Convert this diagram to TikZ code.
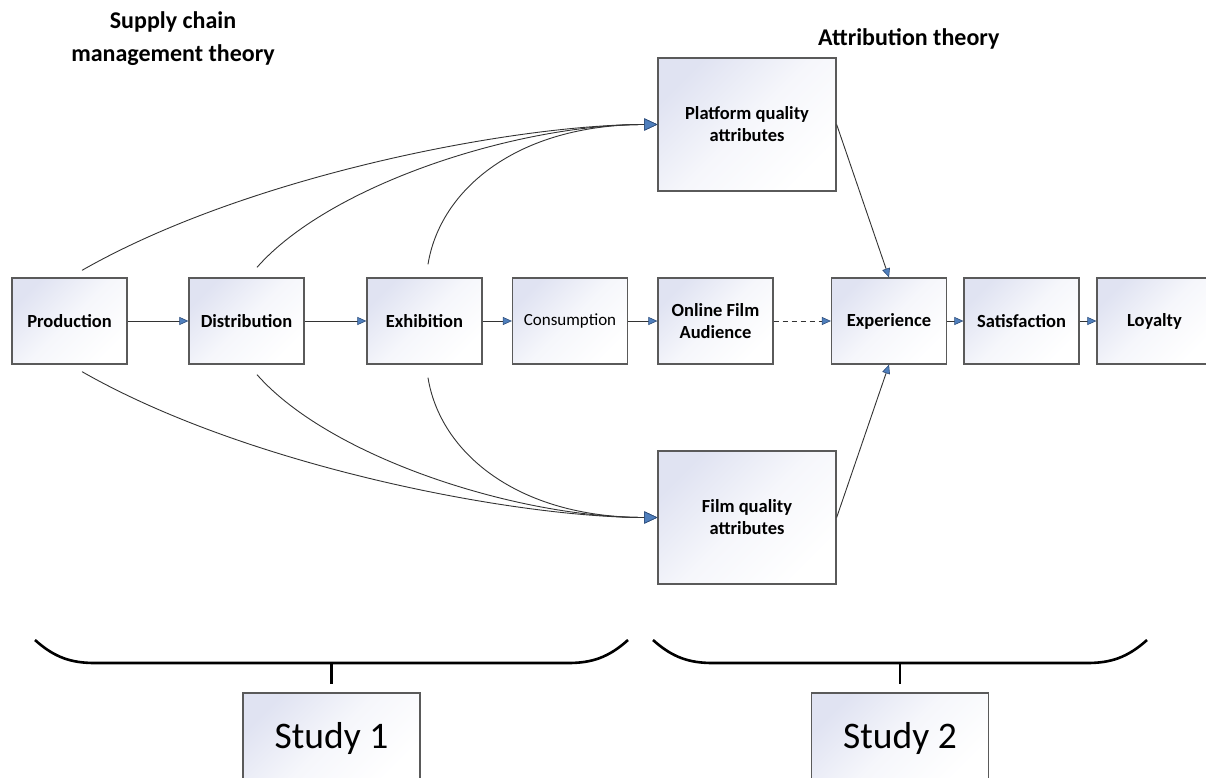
\documentclass[tikz,border=0pt]{standalone}
\usepackage{fontspec}
\setmainfont{Carlito}
\usetikzlibrary{arrows.meta}
\definecolor{boxedge}{HTML}{5A5A5A}
\definecolor{boxtint}{HTML}{E0E3F2}
\definecolor{tipfill}{HTML}{4F7FBD}
\definecolor{tipedge}{HTML}{2E4D7A}
\definecolor{linecol}{HTML}{333333}
\tikzset{
  tint/.style={top color=boxtint, bottom color=white, middle color=white!70!boxtint, shading angle=45},
  blk/.style={draw=boxedge, line width=1.3pt, tint,
    minimum width=115pt, minimum height=86pt, inner sep=0pt, align=center,
    font=\fontsize{18.5}{22}\selectfont\bfseries},
  bigblk/.style={blk, minimum width=178pt, minimum height=133pt},
  conn/.style={draw=linecol, line width=0.9pt, -{Triangle[length=9pt,width=8pt,fill=tipfill,color=tipedge,line width=0.6pt]}},
  curvy/.style={draw=linecol, line width=0.9pt, -{Triangle[length=13pt,width=12pt,fill=tipfill,color=tipedge,line width=0.6pt]}},
  brace/.style={draw=black, line width=2.6pt},
  studybox/.style={draw=boxedge, line width=1.3pt, tint,
    minimum width=177pt, minimum height=90pt, inner sep=0pt, font=\fontsize{37.5}{40}\selectfont},
  title/.style={align=center, font=\fontsize{24}{33}\selectfont\bfseries, inner sep=0pt}
}
\begin{document}
\begin{tikzpicture}[x=1pt,y=-1pt]
\useasboundingbox (0,0) rectangle (1206,778);
% row
\node[blk] (prod) at (69.5,321) {Production};
\node[blk] (dist) at (246.5,321) {Distribution};
\node[blk] (exh) at (424.5,321) {Exhibition};
\node[blk] (cons) at (570,321) {\fontsize{17}{22}\selectfont\mdseries Consumption};
\node[blk] (onl) at (715.5,321) {Online Film\\Audience};
\node[blk] (exp) at (889,321) {Experience};
\node[blk] (sat) at (1021.5,321) {Satisfaction};
\node[blk] (loy) at (1154.5,321) {Loyalty};
% quality boxes
\node[bigblk] (plat) at (747,124.5) {Platform quality\\attributes};
\node[bigblk] (film) at (747,517.5) {Film quality\\attributes};
% titles
\node[title] (t1) at (173,38.5) {Supply chain\\management theory};
\node[title, anchor=west] (t2) at (818,39) {Attribution theory};
% row connectors
\draw[conn] (prod) -- (dist);
\draw[conn] (dist) -- (exh);
\draw[conn] (exh) -- (cons);
\draw[conn] (cons) -- (onl);
\draw[conn, dash pattern=on 5pt off 4pt] (onl) -- (exp);
\draw[conn] (exp) -- (sat);
\draw[conn] (sat) -- (loy);
% quality to experience
\draw[conn] (plat.east) -- (exp.north);
\draw[conn] (film.east) -- (exp.south);
% curves to platform
\draw[curvy] ([shift={(12.5,-7)}]prod.north) .. controls +(168,-96) and +(-140,0) .. (plat.west);
\draw[curvy] ([shift={(10.5,-10)}]dist.north) .. controls +(73,-83) and +(-140,0) .. (plat.west);
\draw[curvy] ([shift={(3.5,-13)}]exh.north) .. controls +(12,-75) and +(-140,0) .. (plat.west);
% curves to film
\draw[curvy] ([shift={(12.5,7)}]prod.south) .. controls +(168,96) and +(-140,0) .. (film.west);
\draw[curvy] ([shift={(10.5,10)}]dist.south) .. controls +(73,83) and +(-140,0) .. (film.west);
\draw[curvy] ([shift={(3.5,13)}]exh.south) .. controls +(12,75) and +(-140,0) .. (film.west);
% braces
\draw[brace] (35,640) .. controls (55,658) and (72,663) .. (95,663) -- (568,663) .. controls (591,663) and (608,658) .. (628,640);
\draw[brace] (653,640) .. controls (673,658) and (690,663) .. (713,663) -- (1087,663) .. controls (1110,663) and (1127,658) .. (1147,640);
\coordinate (b1) at (331.5,663);
\coordinate (b2) at (900,663);
\node[studybox] (s1) at (331.5,738) {Study 1};
\node[studybox] (s2) at (900,738) {Study 2};
\draw[line width=2.6pt] (b1) -- ([yshift=8pt]s1.north);
\draw[line width=2.6pt] (b2) -- ([yshift=8pt]s2.north);
\end{tikzpicture}
\end{document}
